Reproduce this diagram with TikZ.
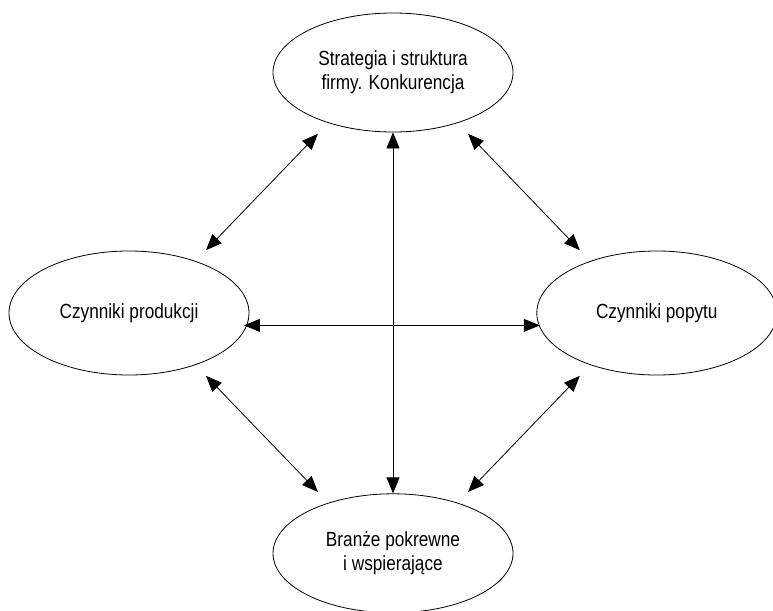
\documentclass[tikz,border=0pt]{standalone}
\usepackage{fontspec}
\setmainfont{Liberation Sans}[FakeStretch=0.84]
\usetikzlibrary{arrows.meta,positioning,shapes.geometric}

\begin{document}
\begin{tikzpicture}[
  x=1pt, y=-1pt,
  factor/.style={draw, ellipse, line width=0.8pt, inner sep=0pt, minimum width=240pt, minimum height=119pt, align=center, font=\fontsize{20.5}{24}\selectfont},
  widefactor/.style={factor, minimum height=124pt},
  twoway/.style={{Triangle[length=16pt,width=13pt]}-{Triangle[length=16pt,width=13pt]}, line width=0.8pt, shorten <=15pt, shorten >=15pt}
]
\useasboundingbox (0,0) rectangle (773,610);

\node[factor] (strategy) at (393,72.5) {Strategia i struktura\\firmy. Konkurencja};
\node[factor, below=361pt of strategy] (related) {Branże pokrewne\\i wspierające};
\node[widefactor] (supply) at (129,313) {Czynniki produkcji};
\node[widefactor, right=287pt of supply] (demand) {Czynniki popytu};

\draw[twoway] (strategy.218) -- (supply.38);
\draw[twoway] (strategy.322) -- (demand.142);
\draw[twoway] (related.142) -- (supply.322);
\draw[twoway] (related.38) -- (demand.218);
\draw[twoway, shorten <=0pt, shorten >=0pt] (strategy.south) -- (related.north);
\draw[twoway, shorten <=-3pt, shorten >=-1pt] (supply.-6) -- (demand.186);
\end{tikzpicture}
\end{document}
